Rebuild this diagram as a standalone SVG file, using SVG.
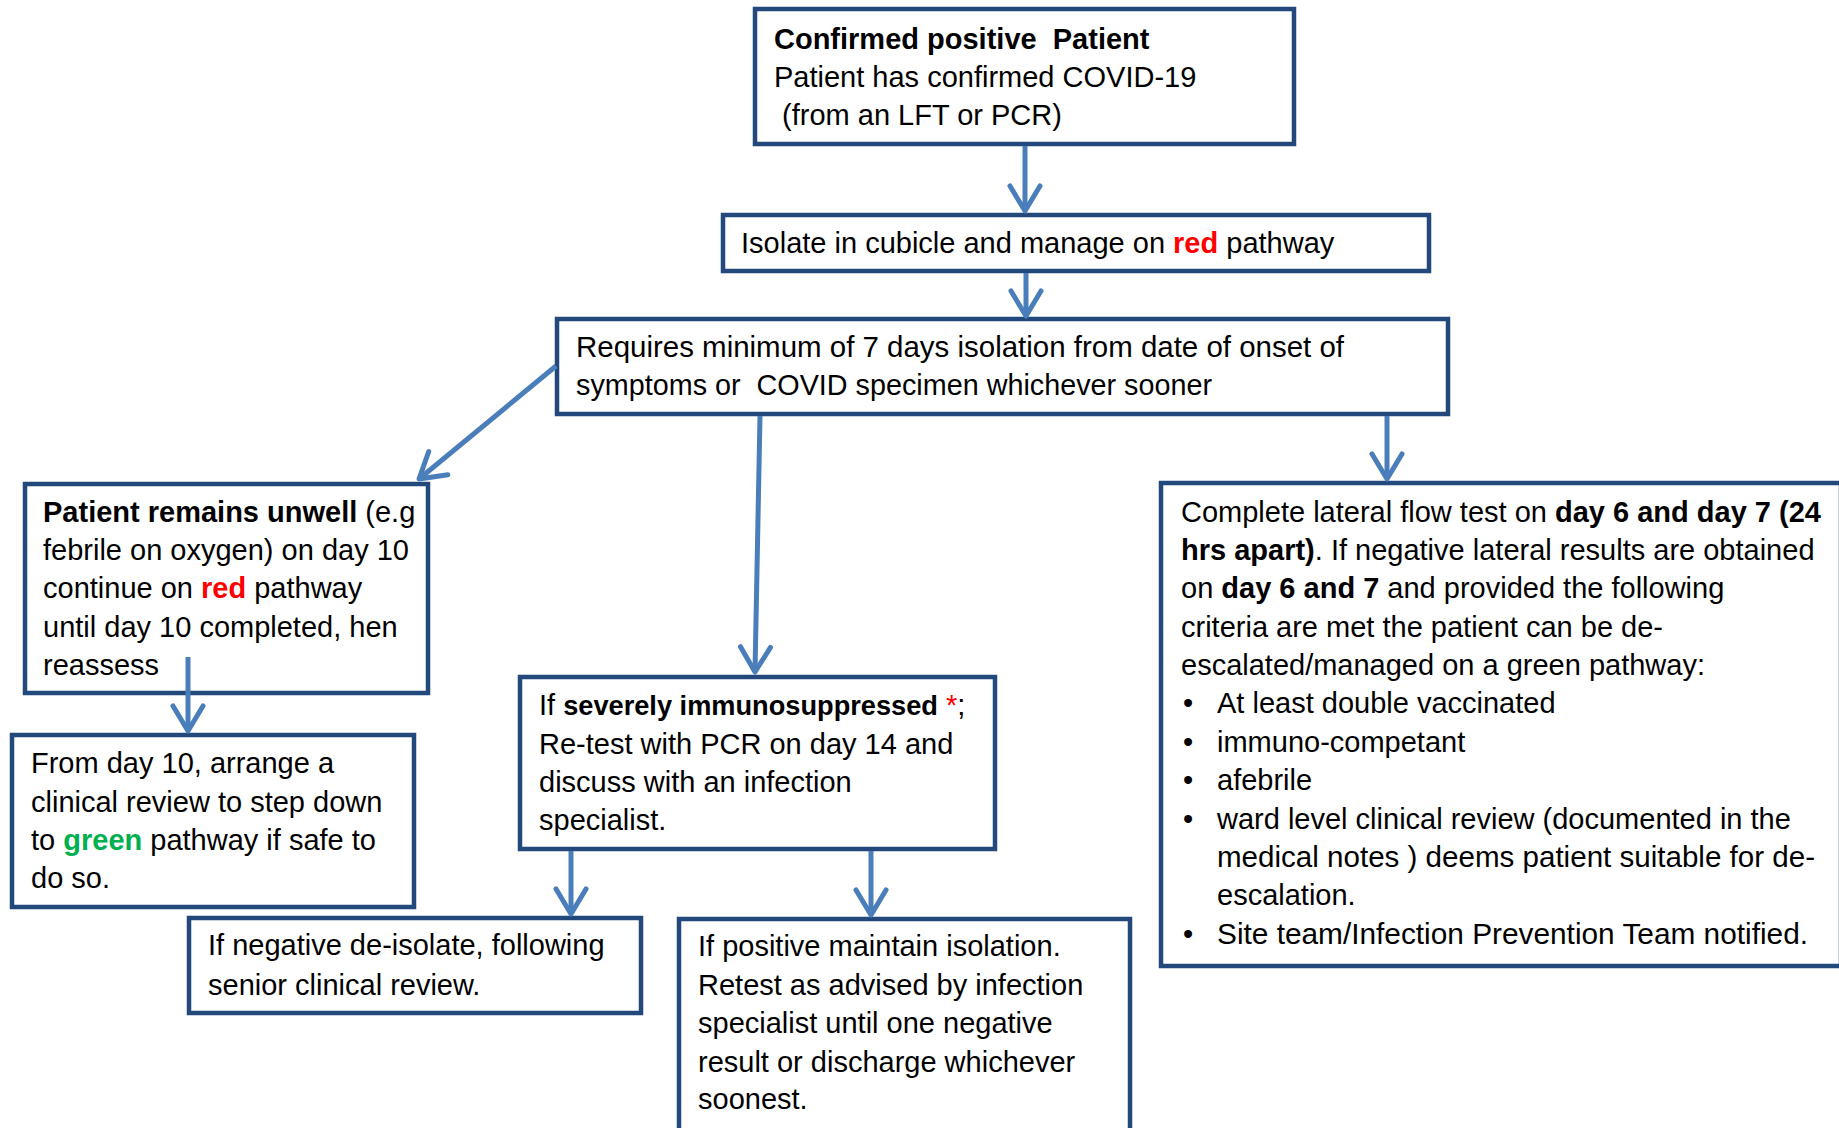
<svg xmlns="http://www.w3.org/2000/svg" width="1839" height="1128" viewBox="0 0 1839 1128">
<style>
.box{fill:#fff;stroke:#23497c;stroke-width:4.5}
.t{font-family:"Liberation Sans",Arial,sans-serif;font-size:29px;fill:#000;white-space:pre}
.b{font-weight:bold}
.red{fill:#ff0000;font-weight:bold}
.green{fill:#00b050;font-weight:bold}
.ar{fill:none;stroke:#4a7ebb;stroke-width:5;marker-end:url(#chev)}
</style>
<defs>
<marker id="chev" markerUnits="userSpaceOnUse" markerWidth="40" markerHeight="40" viewBox="-30 -20 34 40" refX="0" refY="0" orient="auto">
<path d="M-25,-15 L0,0 L-25,15" fill="none" stroke="#4a7ebb" stroke-width="5" stroke-linecap="round" stroke-linejoin="round"/>
</marker>
</defs>
<rect width="1839" height="1128" fill="#fff"/>
<g id="n1">
<rect class="box" x="755" y="9" width="539" height="135"/>
<text class="t" x="774" y="49"><tspan class="b">Confirmed positive  Patient</tspan></text>
<text class="t" x="774" y="87">Patient has confirmed COVID-19</text>
<text class="t" x="774" y="125"> (from an LFT or PCR)</text>
</g>
<g id="n2">
<rect class="box" x="723" y="215" width="706" height="56"/>
<text class="t" x="741" y="253">Isolate in cubicle and manage on <tspan class="red">red</tspan> pathway</text>
</g>
<g id="n3">
<rect class="box" x="557" y="319" width="891" height="95"/>
<text class="t" x="576" y="357" textLength="768" lengthAdjust="spacingAndGlyphs">Requires minimum of 7 days isolation from date of onset of</text>
<text class="t" x="576" y="395" textLength="636" lengthAdjust="spacingAndGlyphs">symptoms or  COVID specimen whichever sooner</text>
</g>
<g id="n4">
<rect class="box" x="25" y="484" width="403" height="209"/>
<text class="t" x="43" y="522"><tspan class="b">Patient remains unwell</tspan> (e.g</text>
<text class="t" x="43" y="560">febrile on oxygen) on day 10</text>
<text class="t" x="43" y="598">continue on <tspan class="red">red</tspan> pathway</text>
<text class="t" x="43" y="637">until day 10 completed, hen</text>
<text class="t" x="43" y="675">reassess</text>
</g>
<g id="n5">
<rect class="box" x="12" y="735" width="402" height="172"/>
<text class="t" x="31" y="773">From day 10, arrange a</text>
<text class="t" x="31" y="812">clinical review to step down</text>
<text class="t" x="31" y="850">to <tspan class="green">green</tspan> pathway if safe to</text>
<text class="t" x="31" y="888">do so.</text>
</g>
<g id="n6">
<rect class="box" x="520" y="677" width="475" height="172"/>
<text class="t" x="539" y="715">If <tspan class="b" style="font-size:27.2px">severely immunosuppressed</tspan> <tspan fill="#ff0000" style="fill:#ff0000">*</tspan>;</text>
<text class="t" x="539" y="754">Re-test with PCR on day 14 and</text>
<text class="t" x="539" y="792">discuss with an infection</text>
<text class="t" x="539" y="830">specialist.</text>
</g>
<g id="n7">
<rect class="box" x="1161" y="483" width="680" height="483"/>
<text class="t" x="1181" y="522">Complete lateral flow test on <tspan class="b">day 6 and day 7 (24</tspan></text>
<text class="t" x="1181" y="560"><tspan class="b">hrs apart)</tspan>. If negative lateral results are obtained</text>
<text class="t" x="1181" y="598">on <tspan class="b">day 6 and 7</tspan> and provided the following</text>
<text class="t" x="1181" y="637">criteria are met the patient can be de-</text>
<text class="t" x="1181" y="675">escalated/managed on a green pathway:</text>
<text class="t" x="1183" y="713">•</text><text class="t" x="1217" y="713">At least double vaccinated</text>
<text class="t" x="1183" y="752">•</text><text class="t" x="1217" y="752">immuno-competant</text>
<text class="t" x="1183" y="790">•</text><text class="t" x="1217" y="790">afebrile</text>
<text class="t" x="1183" y="829">•</text><text class="t" x="1217" y="829">ward level clinical review (documented in the</text>
<text class="t" x="1217" y="867" textLength="598" lengthAdjust="spacingAndGlyphs">medical notes ) deems patient suitable for de-</text>
<text class="t" x="1217" y="905">escalation.</text>
<text class="t" x="1183" y="944">•</text><text class="t" x="1217" y="944" textLength="591" lengthAdjust="spacingAndGlyphs">Site team/Infection Prevention Team notified.</text>
</g>
<g id="n8">
<rect class="box" x="189" y="918" width="452" height="95"/>
<text class="t" x="208" y="955">If negative de-isolate, following</text>
<text class="t" x="208" y="995">senior clinical review.</text>
</g>
<g id="n9">
<rect class="box" x="679" y="919" width="451" height="230"/>
<text class="t" x="698" y="956">If positive maintain isolation.</text>
<text class="t" x="698" y="995">Retest as advised by infection</text>
<text class="t" x="698" y="1033">specialist until one negative</text>
<text class="t" x="698" y="1072">result or discharge whichever</text>
<text class="t" x="698" y="1109">soonest.</text>
</g>
<g id="connectors">
<path class="ar" d="M1025,146 L1025,211"/>
<path class="ar" d="M1026,273 L1026,316"/>
<path class="ar" d="M556,366 L419,479"/>
<path class="ar" d="M760,416 L755,672"/>
<path class="ar" d="M1387,416 L1387,479"/>
<path class="ar" d="M188,657 L188,731"/>
<path class="ar" d="M571,851 L571,914"/>
<path class="ar" d="M871,851 L871,915"/>
</g>
</svg>
